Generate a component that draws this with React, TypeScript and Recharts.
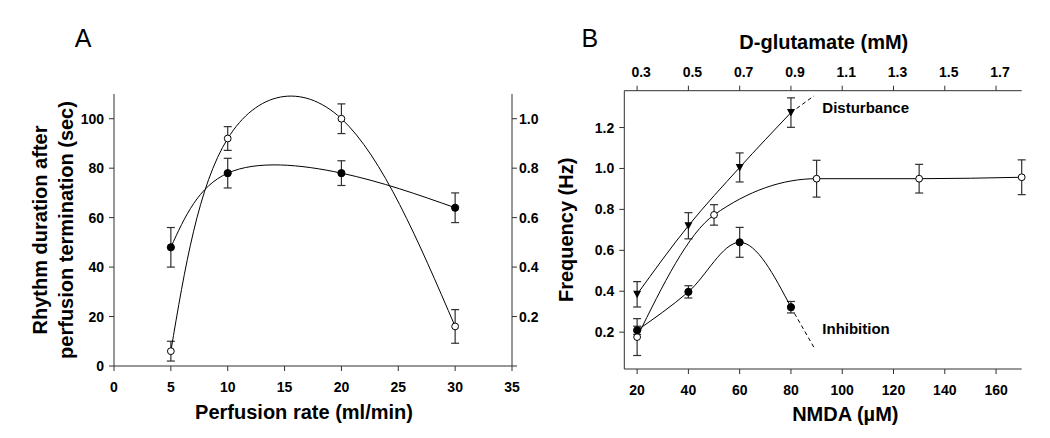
import { ComposedChart, ErrorBar, Label, Line, XAxis, YAxis } from 'recharts';

// Panel A: rhythm duration vs perfusion rate
const perfusionRates = [5, 10, 20, 30];
const durationFilled = [48, 78, 78, 64];
const durationFilledErr = [8, 6, 5, 6];
const durationOpen = [0.06, 0.92, 1.0, 0.16];
const durationOpenErr = [0.04, 0.048, 0.06, 0.068];
const rateTicks = [0, 5, 10, 15, 20, 25, 30, 35];
const durationTicks = [0, 20, 40, 60, 80, 100];
const rightTicks = [0, 0.2, 0.4, 0.6, 0.8, 1.0];
const rightTickLabels = ['', '0.2', '0.4', '0.6', '0.8', '1.0'];

// Panel B: frequency vs NMDA / D-glutamate
const disturbanceNmda = [20, 40, 60, 80];
const disturbanceFreq = [0.385, 0.72, 1.005, 1.273];
const disturbanceErr = [0.062, 0.064, 0.071, 0.072];
const disturbanceTailNmda = [80, 89];
const disturbanceTailFreq = [1.273, 1.355];

const plateauNmda = [20, 50, 90, 130, 170];
const plateauFreq = [0.176, 0.773, 0.95, 0.95, 0.957];
const plateauErr = [0.09, 0.05, 0.09, 0.07, 0.085];

const inhibitionNmda = [20, 40, 60, 80];
const inhibitionFreq = [0.209, 0.397, 0.639, 0.322];
const inhibitionErr = [0.02, 0.03, 0.073, 0.028];
const inhibitionTailNmda = [80, 89];
const inhibitionTailFreq = [0.322, 0.125];

const nmdaTicks = [20, 40, 60, 80, 100, 120, 140, 160];
const glutamateLabels = ['0.3', '0.5', '0.7', '0.9', '1.1', '1.3', '1.5', '1.7'];
const freqTicks = [0.2, 0.4, 0.6, 0.8, 1.0, 1.2];

const FONT = '"Liberation Sans", Arial, Helvetica, sans-serif';
const axisColor = '#303030';
const tickStyle = { fontSize: 14, fontWeight: 700, fill: '#000', fontFamily: FONT };
const titleStyle = { fontSize: 20, fontWeight: 700, fill: '#000', fontFamily: FONT };

const toPoints = (xs: number[], ys: number[], errs?: number[]) =>
    xs.map((x, i) => ({ x, y: ys[i], err: errs ? errs[i] : 0 }));

const filledDot = (p: any) => (
    <circle key={`f-${p.index}`} cx={p.cx} cy={p.cy} r={3.6} fill="#000" stroke="#000" strokeWidth={1} />
);
const openDot = (p: any) => (
    <circle key={`o-${p.index}`} cx={p.cx} cy={p.cy} r={3.4} fill="#fff" stroke="#000" strokeWidth={1} />
);
const triangleDot = (p: any) => (
    <path
        key={`t-${p.index}`}
        d={`M${p.cx - 4},${p.cy - 3.5}L${p.cx + 4},${p.cy - 3.5}L${p.cx},${p.cy + 4}Z`}
        fill="#000"
    />
);

const axisProps = {
    axisLine: { stroke: axisColor },
    tickLine: { stroke: axisColor },
    tick: tickStyle,
    tickSize: 5,
    interval: 0 as const,
};

const lineProps = {
    dataKey: 'y',
    stroke: '#000',
    strokeWidth: 1,
    activeDot: false,
    isAnimationActive: false,
};

const errProps = { dataKey: 'err', width: 4, stroke: axisColor, strokeWidth: 1.2 };

const PanelA = () => {
    const filled = toPoints(perfusionRates, durationFilled, durationFilledErr);
    const open = toPoints(perfusionRates, durationOpen, durationOpenErr);
    return (
        <ComposedChart width={560} height={438} margin={{ top: 94, right: 8, bottom: 42, left: 64 }}>
            <XAxis dataKey="x" type="number" domain={[0, 35]} ticks={rateTicks} height={30} tickMargin={11} {...axisProps}>
                <Label
                    content={(p: any) => (
                        <text x={p.viewBox.x + p.viewBox.width / 2 - 9} y={419} textAnchor="middle" style={titleStyle}>
                            Perfusion rate (ml/min)
                        </text>
                    )}
                />
            </XAxis>
            <YAxis yAxisId="left" type="number" domain={[0, 110]} ticks={durationTicks} width={50} tickMargin={5} {...axisProps}>
                <Label
                    content={(p: any) => {
                        const cy = p.viewBox.y + p.viewBox.height / 2;
                        const x1 = p.viewBox.x - 24.3;
                        const x2 = p.viewBox.x + 1.5;
                        return (
                            <g>
                                <text x={x1} y={cy} transform={`rotate(-90, ${x1}, ${cy})`} textAnchor="middle" dominantBaseline="central" style={titleStyle}>
                                    Rhythm duration after
                                </text>
                                <text x={x2} y={cy} transform={`rotate(-90, ${x2}, ${cy})`} textAnchor="middle" dominantBaseline="central" style={titleStyle}>
                                    perfusion termination (sec)
                                </text>
                            </g>
                        );
                    }}
                />
            </YAxis>
            <YAxis
                yAxisId="right"
                orientation="right"
                type="number"
                domain={[0, 1.1]}
                ticks={rightTicks}
                tickFormatter={(v: number) => rightTickLabels[rightTicks.indexOf(v)] ?? ''}
                width={40}
                tickMargin={2}
                {...axisProps}
            />
            <Line yAxisId="left" data={filled} type="natural" dot={filledDot} {...lineProps}>
                <ErrorBar {...errProps} />
            </Line>
            <Line yAxisId="right" data={open} type="natural" dot={openDot} {...lineProps}>
                <ErrorBar {...errProps} />
            </Line>
        </ComposedChart>
    );
};

const PanelB = () => {
    const disturbance = toPoints(disturbanceNmda, disturbanceFreq, disturbanceErr);
    const disturbanceTail = toPoints(disturbanceTailNmda, disturbanceTailFreq);
    const plateau = toPoints(plateauNmda, plateauFreq, plateauErr);
    const inhibition = toPoints(inhibitionNmda, inhibitionFreq, inhibitionErr);
    const inhibitionTail = toPoints(inhibitionTailNmda, inhibitionTailFreq);
    return (
        <ComposedChart width={510} height={438} margin={{ top: 60.7, right: 28.3, bottom: 39, left: 44.3 }}>
            <XAxis dataKey="x" type="number" domain={[15, 170]} ticks={nmdaTicks} height={30} tickMargin={11} {...axisProps}>
                <Label
                    content={(p: any) => (
                        <text x={p.viewBox.x + p.viewBox.width / 2 + 22.3} y={420.5} textAnchor="middle" style={titleStyle}>
                            NMDA (µM)
                        </text>
                    )}
                />
            </XAxis>
            <XAxis
                xAxisId="top"
                orientation="top"
                dataKey="x"
                type="number"
                domain={[15, 170]}
                allowDataOverflow
                ticks={nmdaTicks}
                tickFormatter={(v: number) => glutamateLabels[nmdaTicks.indexOf(v)] ?? ''}
                height={30}
                tickMargin={8.4}
                {...axisProps}
                tick={{ ...tickStyle, dx: 4 }}
            >
                <Label
                    content={(p: any) => (
                        <text x={p.viewBox.x + p.viewBox.width / 2 + 0.8} y={49.3} textAnchor="middle" style={titleStyle}>
                            D-glutamate (mM)
                        </text>
                    )}
                />
            </XAxis>
            <YAxis
                type="number"
                domain={[0.02, 1.38]}
                ticks={freqTicks}
                tickFormatter={(v: number) => v.toFixed(1)}
                width={40}
                tickMargin={5}
                {...axisProps}
            >
                <Label
                    content={(p: any) => {
                        const cy = p.viewBox.y + p.viewBox.height / 2;
                        const x = p.viewBox.x - 17.8;
                        return (
                            <text x={x} y={cy} transform={`rotate(-90, ${x}, ${cy})`} textAnchor="middle" dominantBaseline="central" style={titleStyle}>
                                Frequency (Hz)
                            </text>
                        );
                    }}
                />
            </YAxis>
            {/* invisible series so the D-glutamate axis gets a scale */}
            <Line xAxisId="top" data={plateau} type="linear" dot={false} {...lineProps} stroke="none" />
            <Line data={disturbanceTail} type="linear" dot={false} strokeDasharray="4 3" {...lineProps} />
            <Line data={inhibitionTail} type="linear" dot={false} strokeDasharray="4 3" {...lineProps} />
            <Line data={disturbance} type="monotoneX" dot={triangleDot} {...lineProps}>
                <ErrorBar {...errProps} />
            </Line>
            <Line data={plateau} type="monotoneX" dot={openDot} {...lineProps}>
                <ErrorBar {...errProps} />
            </Line>
            <Line data={inhibition} type="monotoneX" dot={filledDot} {...lineProps}>
                <ErrorBar {...errProps} />
            </Line>
        </ComposedChart>
    );
};

export default function App() {
    return (
        <div style={{ position: 'absolute', left: 0, top: 0, width: 1050, height: 438, background: '#fff', fontFamily: FONT }}>
            <div style={{ position: 'absolute', left: 0, top: 0 }}>
                <PanelA />
            </div>
            <div style={{ position: 'absolute', left: 540, top: 0 }}>
                <PanelB />
            </div>
            <svg width={1050} height={438} style={{ position: 'absolute', left: 0, top: 0, pointerEvents: 'none' }}>
                <text x={83} y={46.7} textAnchor="middle" fontSize={25} fontFamily={FONT} fill="#000">
                    A
                </text>
                <text x={589.8} y={46.7} textAnchor="middle" fontSize={25} fontFamily={FONT} fill="#000">
                    B
                </text>
                <text x={822.3} y={113} fontSize={15} fontWeight={700} fontFamily={FONT} fill="#000">
                    Disturbance
                </text>
                <text x={822.3} y={333.7} fontSize={15} fontWeight={700} fontFamily={FONT} fill="#000">
                    Inhibition
                </text>
            </svg>
        </div>
    );
}
